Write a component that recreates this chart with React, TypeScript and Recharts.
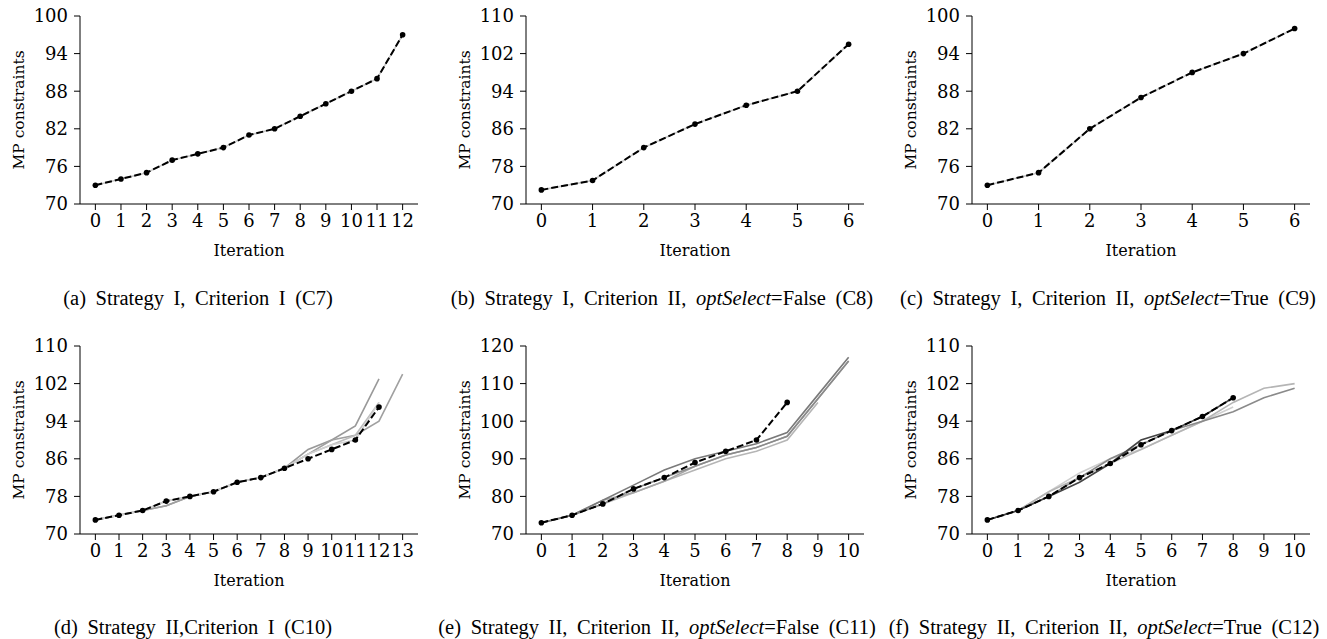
import React from "react"
import { Line, LineChart, XAxis, YAxis } from "recharts"

// iterations on the x axis
const iter7 = [0, 1, 2, 3, 4, 5, 6]
const iter11 = [0, 1, 2, 3, 4, 5, 6, 7, 8, 9, 10]
const iter13 = [0, 1, 2, 3, 4, 5, 6, 7, 8, 9, 10, 11, 12]
const iter14 = [0, 1, 2, 3, 4, 5, 6, 7, 8, 9, 10, 11, 12, 13]

// y tick labels
const yTicks6 = [70, 76, 82, 88, 94, 100]
const yTicks8 = [70, 78, 86, 94, 102, 110]
const yTicks10 = [70, 80, 90, 100, 110, 120]

// (a) C7
const c7 = [73, 74, 75, 77, 78, 79, 81, 82, 84, 86, 88, 90, 97]
const c7Run = [73, 74, 75, 77, 78, 79, 81, 82, 84, 86, 88, 90, 97]
// (b) C8
const c8 = [73, 75, 82, 87, 91, 94, 104]
const c8Run = [73, 75, 82, 87, 91, 94, 104]
// (c) C9
const c9 = [73, 75, 82, 87, 91, 94, 98]
const c9Run = [73, 75, 82, 87, 91, 94, 98]
// (d) C10
const c10 = [73, 74, 75, 77, 78, 79, 81, 82, 84, 86, 88, 90, 97]
const c10Run1 = [73, 74, 75, 76, 78, 79, 81, 82, 84, 88, 90, 93, 103]
const c10Run2 = [73, 74, 75, 76, 78, 79, 81, 82, 84, 87, 90, 91, 94, 104]
const c10Run3 = [73, 74, 75, 77, 78, 79, 81, 82, 84, 87, 89, 91, 98]
const c10Run4 = [73, 74, 75, 77, 78, 79, 81, 82, 84, 87, 89, 90, 98]
// (e) C11
const c11 = [73, 75, 78, 82, 85, 89, 92, 95, 105]
const c11Run1 = [73, 75, 79, 83, 87, 90, 92, 94, 97, 107, 117]
const c11Run2 = [73, 75, 78, 82, 85, 88, 91, 93, 96, 106, 116]
const c11Run3 = [73, 75, 78, 81, 84, 87, 90, 92, 95, 105]
const c11Run4 = [73, 75, 79, 81, 84, 88, 91, 93, 96, 106, 116]
// (f) C12
const c12 = [73, 75, 78, 82, 85, 89, 92, 95, 99]
const c12Run1 = [73, 75, 78, 81, 85, 90, 92, 95, 99]
const c12Run2 = [73, 75, 78, 82, 86, 89, 92, 94, 96, 99, 101]
const c12Run3 = [73, 75, 79, 82, 85, 88, 91, 94, 98, 101, 102]
const c12Run4 = [73, 75, 79, 83, 86, 88, 91, 94, 97]

const AXIS_FONT = "'DejaVu Serif', serif"
const CAPTION_FONT = "'Liberation Serif', 'Times New Roman', serif"
const TICK_SIZE = 18

type Row = { it: number; [key: string]: number | undefined }

const buildRows = (xs: number[], series: Record<string, number[]>): Row[] =>
  xs.map((x, i) => {
    const row: Row = { it: x }
    Object.keys(series).forEach((k) => {
      row[k] = series[k][i]
    })
    return row
  })

interface PanelProps {
  left: number
  top: number
  xs: number[]
  main: number[]
  runs: { values: number[]; color: string }[]
  yTicks: number[]
  pad: number
}

const Panel = ({ left, top, xs, main, runs, yTicks, pad }: PanelProps) => {
  const series: Record<string, number[]> = { main }
  runs.forEach((r, i) => {
    series["run" + i] = r.values
  })
  const data = buildRows(xs, series)
  const xDomain = [xs[0] - pad, xs[xs.length - 1] + pad]
  const yDomain = [yTicks[0], yTicks[yTicks.length - 1]]
  const tickStyle = { fontFamily: AXIS_FONT, fontSize: TICK_SIZE, fill: "#000" }

  return (
    <div style={{ position: "absolute", left, top }}>
      <LineChart width={446} height={270} data={data} margin={{ top: 16, right: 28, bottom: 0, left: 0 }}>
        <XAxis
          dataKey="it"
          type="number"
          domain={xDomain}
          ticks={xs}
          interval={0}
          tick={tickStyle}
          fontSize={TICK_SIZE}
          fontFamily={AXIS_FONT}
          stroke="#000"
          tickSize={6}
          tickMargin={4}
          height={66}
          label={({ viewBox }: any) => (
            <text
              x={viewBox.x + viewBox.width / 2}
              y={viewBox.y + 52}
              textAnchor="middle"
              fontSize={16}
              fontFamily={AXIS_FONT}
              fill="#000"
            >
              Iteration
            </text>
          )}
        />
        <YAxis
          type="number"
          domain={yDomain}
          ticks={yTicks}
          interval={0}
          tick={tickStyle}
          fontSize={TICK_SIZE}
          fontFamily={AXIS_FONT}
          stroke="#000"
          tickSize={6}
          tickMargin={6}
          width={80}
          label={({ viewBox }: any) => {
            const cx = viewBox.x + 19
            const cy = viewBox.y + viewBox.height / 2
            return (
              <text
                x={cx}
                y={cy}
                textAnchor="middle"
                dominantBaseline="central"
                transform={`rotate(-90, ${cx}, ${cy})`}
                fontSize={15.5}
                fontFamily={AXIS_FONT}
                fill="#000"
              >
                MP constraints
              </text>
            )
          }}
        />
        <XAxis xAxisId="top" orientation="top" type="number" domain={xDomain} tick={false} tickLine={false} height={0} stroke="#000" />
        <YAxis yAxisId="right" orientation="right" type="number" domain={yDomain} tick={false} tickLine={false} width={0} stroke="#000" />
        {runs.map((r, i) => (
          <Line
            key={i}
            dataKey={"run" + i}
            stroke={r.color}
            strokeWidth={1.6}
            dot={false}
            type="linear"
            isAnimationActive={false}
          />
        ))}
        <Line
          dataKey="main"
          stroke="#000"
          strokeWidth={2}
          strokeDasharray="7 3"
          dot={{ r: 2.8, fill: "#000", stroke: "none" }}
          type="linear"
          isAnimationActive={false}
        />
      </LineChart>
    </div>
  )
}

const Caption = ({ center, top, children }: { center: number; top: number; children: React.ReactNode }) => (
  <div
    style={{
      position: "absolute",
      left: center - 250,
      top,
      width: 500,
      textAlign: "center",
      fontFamily: CAPTION_FONT,
      fontSize: 20.5,
      wordSpacing: 4.5,
      whiteSpace: "nowrap",
      color: "#000",
    }}
  >
    {children}
  </div>
)

export default function App() {
  return (
    <div style={{ position: "absolute", left: 0, top: 0, width: 1327, height: 639, background: "#fff", overflow: "hidden" }}>
      <Panel left={0} top={0} xs={iter13} main={c7} runs={[{ values: c7Run, color: "#c8c8c8" }]} yTicks={yTicks6} pad={0.6} />
      <Panel left={446} top={0} xs={iter7} main={c8} runs={[{ values: c8Run, color: "#c8c8c8" }]} yTicks={yTicks8} pad={0.3} />
      <Panel left={892} top={0} xs={iter7} main={c9} runs={[{ values: c9Run, color: "#c8c8c8" }]} yTicks={yTicks6} pad={0.3} />
      <Panel
        left={0}
        top={330}
        xs={iter14}
        main={c10}
        runs={[
          { values: c10Run1, color: "#999" },
          { values: c10Run2, color: "#a0a0a0" },
          { values: c10Run3, color: "#bdbdbd" },
          { values: c10Run4, color: "#d0d0d0" },
        ]}
        yTicks={yTicks8}
        pad={0.65}
      />
      <Panel
        left={446}
        top={330}
        xs={iter11}
        main={c11}
        runs={[
          { values: c11Run3, color: "#b5b5b5" },
          { values: c11Run4, color: "#a5a5a5" },
          { values: c11Run2, color: "#8a8a8a" },
          { values: c11Run1, color: "#7a7a7a" },
        ]}
        yTicks={yTicks10}
        pad={0.5}
      />
      <Panel
        left={892}
        top={330}
        xs={iter11}
        main={c12}
        runs={[
          { values: c12Run4, color: "#d0d0d0" },
          { values: c12Run3, color: "#b5b5b5" },
          { values: c12Run2, color: "#8a8a8a" },
          { values: c12Run1, color: "#444" },
        ]}
        yTicks={yTicks8}
        pad={0.5}
      />
      <Caption center={198} top={287}>
        (a) Strategy I, Criterion I (C7)
      </Caption>
      <Caption center={662} top={287}>
        (b) Strategy I, Criterion II, <i>optSelect</i>=False (C8)
      </Caption>
      <Caption center={1108} top={287}>
        (c) Strategy I, Criterion II, <i>optSelect</i>=True (C9)
      </Caption>
      <Caption center={193} top={616}>
        (d) Strategy II,Criterion I (C10)
      </Caption>
      <Caption center={657} top={616}>
        (e) Strategy II, Criterion II, <i>optSelect</i>=False (C11)
      </Caption>
      <Caption center={1104} top={616}>
        (f) Strategy II, Criterion II, <i>optSelect</i>=True (C12)
      </Caption>
    </div>
  )
}
